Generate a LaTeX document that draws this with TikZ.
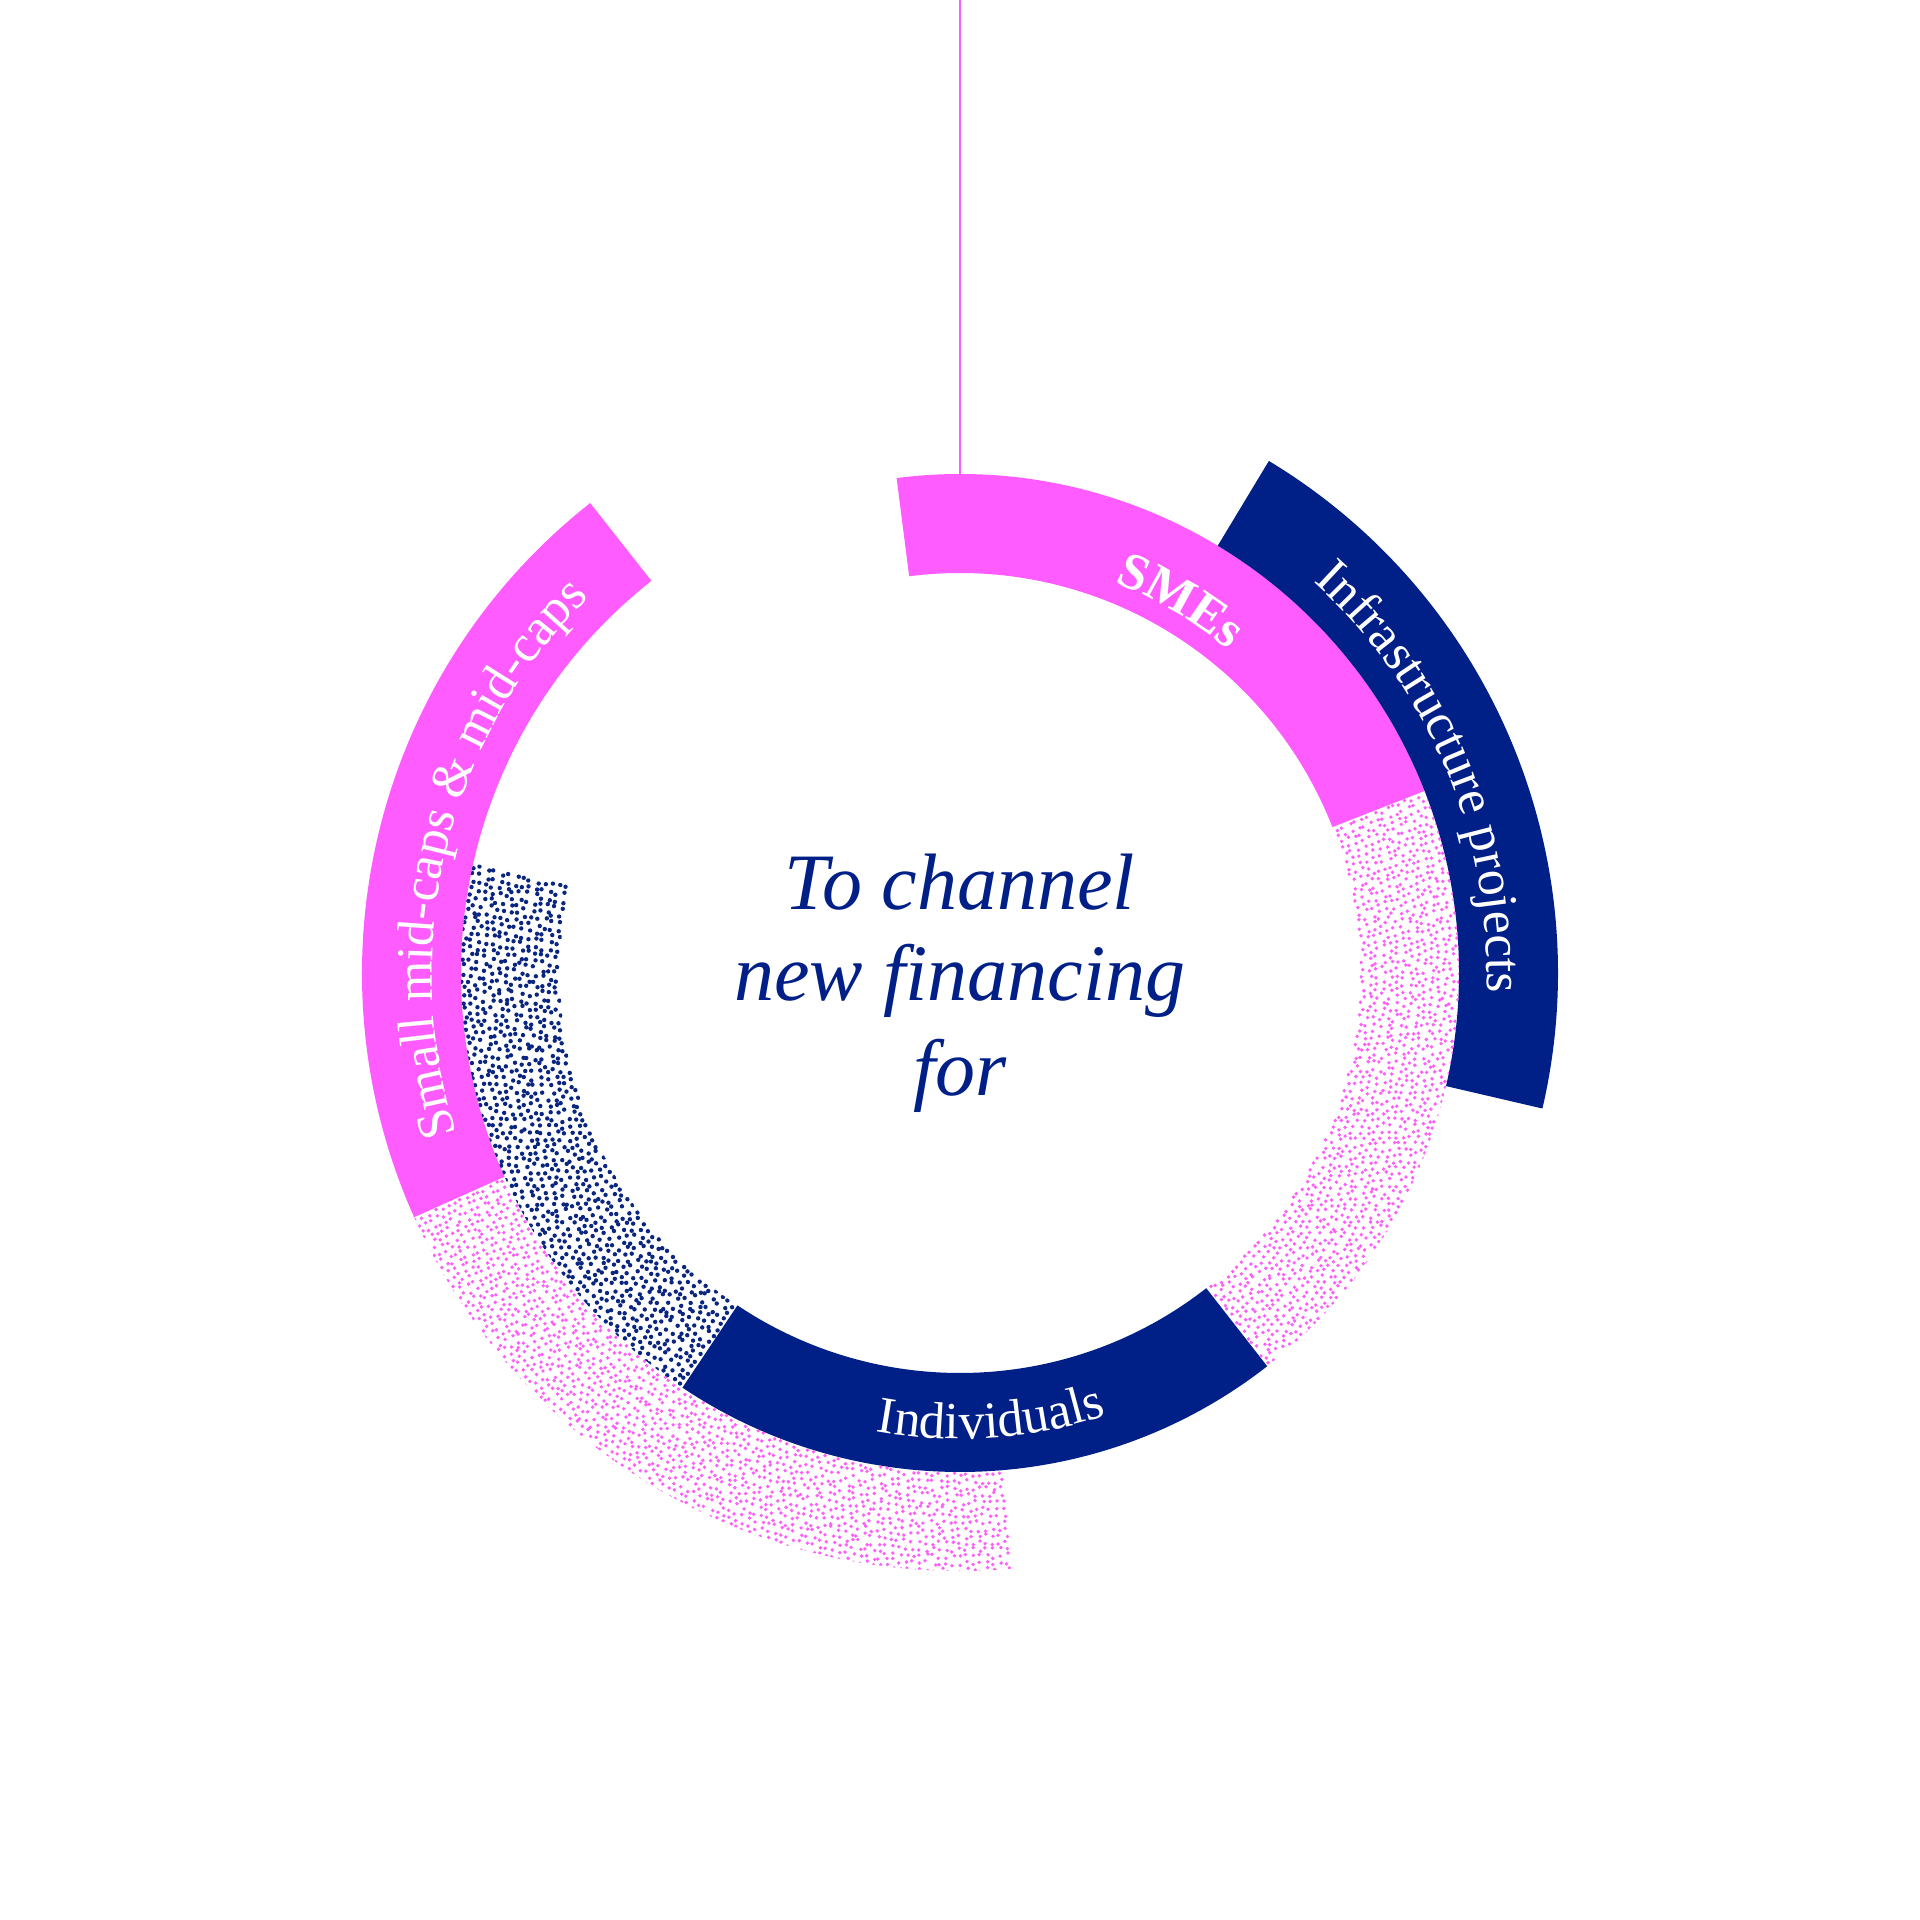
\documentclass[tikz,border=0pt]{standalone}
\usepackage{fontspec}
\setmainfont{Liberation Serif}
\usetikzlibrary{decorations.text}
\definecolor{epink}{HTML}{FF5CFF}
\definecolor{enavy}{HTML}{001F87}
\definecolor{dotpink}{HTML}{FF60FA}
\definecolor{dotnavy}{HTML}{0A2680}
\newcommand\ringseg[4]{(#1:#3) arc[start angle=#1, end angle=#2, radius=#3] -- (#2:#4) arc[start angle=#2, end angle=#1, radius=#4] -- cycle}
\newcommand\stipple[7]{%
  \pgfmathsetmacro\stA{#3+#5/2}%
  \pgfmathsetmacro\stB{#3+3*#5/2}%
  \begin{scope}
    \clip \ringseg{#1}{#2}{#3}{#4};
    \fill[#7] \foreach \rr [evaluate=\rr as \nn using {int(abs(#2-#1)*pi/180*\rr/#5)}] in {\stA,\stB,...,#4} {
      \foreach \ii [evaluate=\ii as \aa using {#1+(\ii+0.5+0.6*rnd-0.3)*(#2-#1)/(\nn+1)}, evaluate=\ii as \ra using {\rr+0.35*#5*(2*rnd-1)}] in {0,...,\nn} {
        (\aa:\ra) circle[radius=#6]
      }
    };
  \end{scope}}
\newcommand\lblfont{\fontsize{52}{56}\selectfont}
\begin{document}
\begin{tikzpicture}[x=1pt,y=1pt,
  ctext/.style={font=\fontsize{80}{90}\selectfont\itshape, text=enavy, inner sep=0pt},
  arclabel/.style={decorate, decoration={text along path, text align=center, text color=white, text={#1}}}]
\path[use as bounding box, fill=white] (-960,-947) rectangle (960,973);
\pgfmathsetseed{7}
% solid bands
\fill[epink] \ringseg{97.3}{21.4}{400}{499};
\fill[enavy] \ringseg{-123.8}{-52}{400}{499};
\fill[enavy] \ringseg{58.9}{-13.1}{499}{598};
\fill[epink] \ringseg{128.2}{204.1}{499}{598};
% stippled bands
\stipple{-52}{21.4}{400}{499}{6.8}{1.9}{dotpink}
\stipple{204.1}{275}{499}{598}{6.8}{1.9}{dotpink}
\stipple{167.3}{236.2}{400}{499}{7.2}{2.2}{dotnavy}
% top line
\coordinate (ltop) at (0,973);
\coordinate (lbot) at (90:499);
\draw[epink, line width=2.5pt] (ltop) -- (lbot);
% labels
\path[arclabel={|\lblfont\bfseries|SMEs}] (97.3:420) arc[start angle=97.3, end angle=21.4, radius=420];
\path[arclabel={|\lblfont|Infrastructure projects}] (58.9:527) arc[start angle=58.9, end angle=-13.1, radius=527];
\path[arclabel={|\lblfont|Individuals}] (-126:466) arc[start angle=-126, end angle=-46, radius=466];
\path[arclabel={|\lblfont|Small mid-caps {\&} mid-caps}] (204.1:528) arc[start angle=204.1, end angle=128.2, radius=528];
% centre text
\node[ctext, anchor=base] (t1) at (0,64) {To channel};
\node[ctext, anchor=base] (t2) at (0,-27) {new financing};
\node[ctext, anchor=base] (t3) at (0,-122) {for};
\end{tikzpicture}
\end{document}
